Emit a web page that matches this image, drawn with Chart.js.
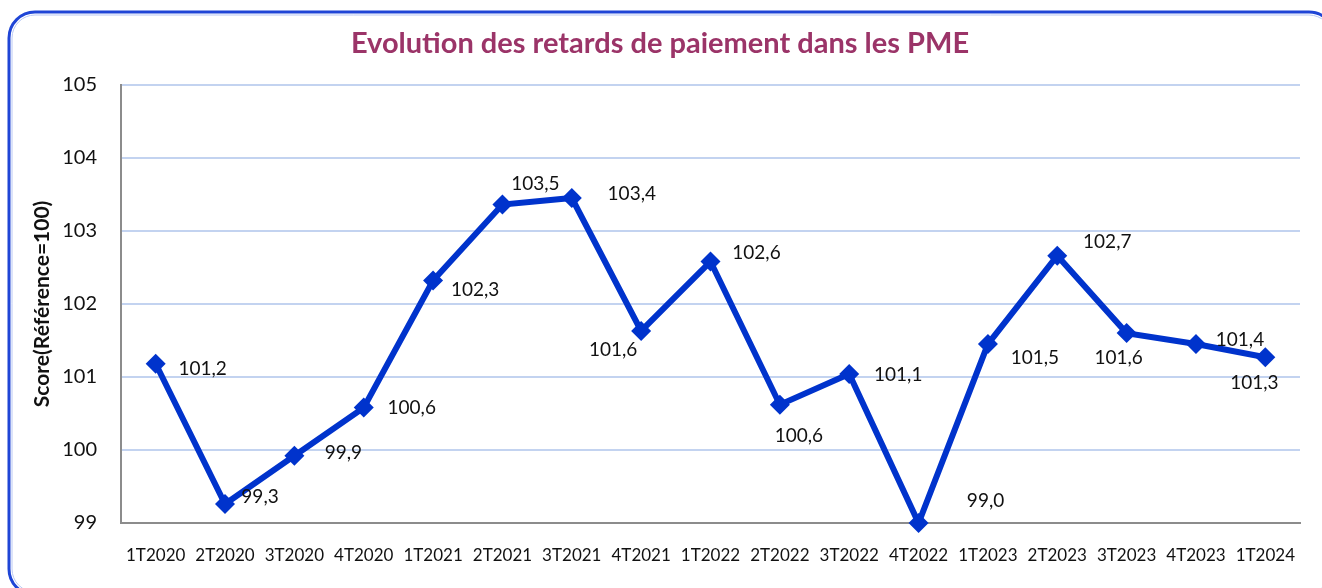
<!DOCTYPE html>
<html>
<head>
<meta charset="utf-8">
<script src="https://cdn.jsdelivr.net/npm/chart.js@4"></script>
<style>
    html, body { margin: 0; padding: 0; background: #ffffff; }
    #wrap { width: 1322px; height: 588px; position: relative; overflow: hidden; }
</style>
</head>
<body>
<div id="wrap"><canvas id="myChart"></canvas></div>
<script>
    const quarters = ["1T2020", "2T2020", "3T2020", "4T2020", "1T2021", "2T2021", "3T2021", "4T2021", "1T2022",
        "2T2022", "3T2022", "4T2022", "1T2023", "2T2023", "3T2023", "4T2023", "1T2024"];
    const scores = [101.18, 99.26, 99.92, 100.58, 102.32, 103.36, 103.45, 101.63, 102.58,
        100.62, 101.04, 99.0, 101.45, 102.66, 101.60, 101.45, 101.27];
    // labels as printed on the chart
    const scoreLabels = ["101,2", "99,3", "99,9", "100,6", "102,3", "103,5", "103,4", "101,6", "102,6",
        "100,6", "101,1", "99,0", "101,5", "102,7", "101,6", "101,4", "101,3"];
    const yTicks = [99, 100, 101, 102, 103, 104, 105];

    // where each label sits relative to its point
    const labelOffsets = [[47, 5], [35, -7], [49, -3], [48, 0], [42, 9], [33, -21], [60, -4], [-28, 19], [46, -9],
        [19, 31], [49, 1], [67, -22], [47, 14], [50, -14], [-8, 25], [44, -4], [-11, 26]];

    const frame = {
        id: "frame",
        beforeDraw(chart) {
            const c = chart.ctx;
            c.save();
            c.strokeStyle = "#1f45d6";
            c.lineWidth = 3;
            c.beginPath();
            c.roundRect(9, 12, 1326, 583, 26);
            c.stroke();
            c.strokeStyle = "#b9c8f3";
            c.lineWidth = 1;
            c.beginPath();
            c.roundRect(12, 15, 1320, 577, 23);
            c.stroke();
            c.restore();
        }
    };

    const pointLabels = {
        id: "pointLabels",
        afterDatasetsDraw(chart) {
            const c = chart.ctx;
            const meta = chart.getDatasetMeta(0);
            c.save();
            c.font = "19px Lato";
            c.fillStyle = "#111111";
            c.textAlign = "center";
            c.textBaseline = "middle";
            meta.data.forEach((pt, i) => {
                const off = labelOffsets[i];
                c.fillText(scoreLabels[i], pt.x + off[0], pt.y + off[1]);
            });
            c.restore();
        }
    };

    const ctx = document.getElementById("myChart").getContext("2d");

    new Chart(ctx, {
        type: "line",
        data: {
            labels: quarters,
            datasets: [{
                label: "Score",
                data: scores,
                borderColor: "#0033cc",
                backgroundColor: "#0033cc",
                borderWidth: 6,
                pointStyle: "rectRot",
                pointRadius: 10,
                pointHoverRadius: 10,
                pointBorderWidth: 0,
                tension: 0,
                clip: false
            }]
        },
        options: {
            responsive: true,
            maintainAspectRatio: false,
            animation: false,
            events: [],
            layout: {
                padding: { left: 20, right: 22, top: 26, bottom: 10 }
            },
            scales: {
                x: {
                    offset: true,
                    grid: { display: false },
                    border: { color: "#8c8c8c", width: 2 },
                    ticks: {
                        color: "#111111",
                        maxRotation: 0,
                        autoSkip: false,
                        padding: 14,
                        font: { family: "Lato", size: 17 }
                    },
                    afterFit(scale) { scale.height = 55; }
                },
                y: {
                    min: 99,
                    max: 105,
                    afterBuildTicks(scale) { scale.ticks = yTicks.map(v => ({ value: v })); },
                    grid: { color: "#c3d3f0", lineWidth: 2, drawTicks: false },
                    border: { color: "#8c8c8c", width: 2 },
                    ticks: {
                        color: "#111111",
                        padding: 24,
                        font: { family: "Lato", size: 20 }
                    },
                    title: {
                        display: true,
                        text: "Score(Référence=100)",
                        color: "#111111",
                        padding: { top: 10, bottom: 0 },
                        font: { family: "Lato", size: 21, weight: "bold" }
                    },
                    afterFit(scale) { scale.width = 101; }
                }
            },
            plugins: {
                legend: { display: false },
                tooltip: { enabled: false },
                title: {
                    display: true,
                    text: "Evolution des retards de paiement dans les PME",
                    color: "#9b3468",
                    padding: { top: 0, bottom: 24 },
                    font: { family: "Lato", size: 29, weight: "bold" }
                }
            }
        },
        plugins: [frame, pointLabels]
    });
</script>
</body>
</html>
